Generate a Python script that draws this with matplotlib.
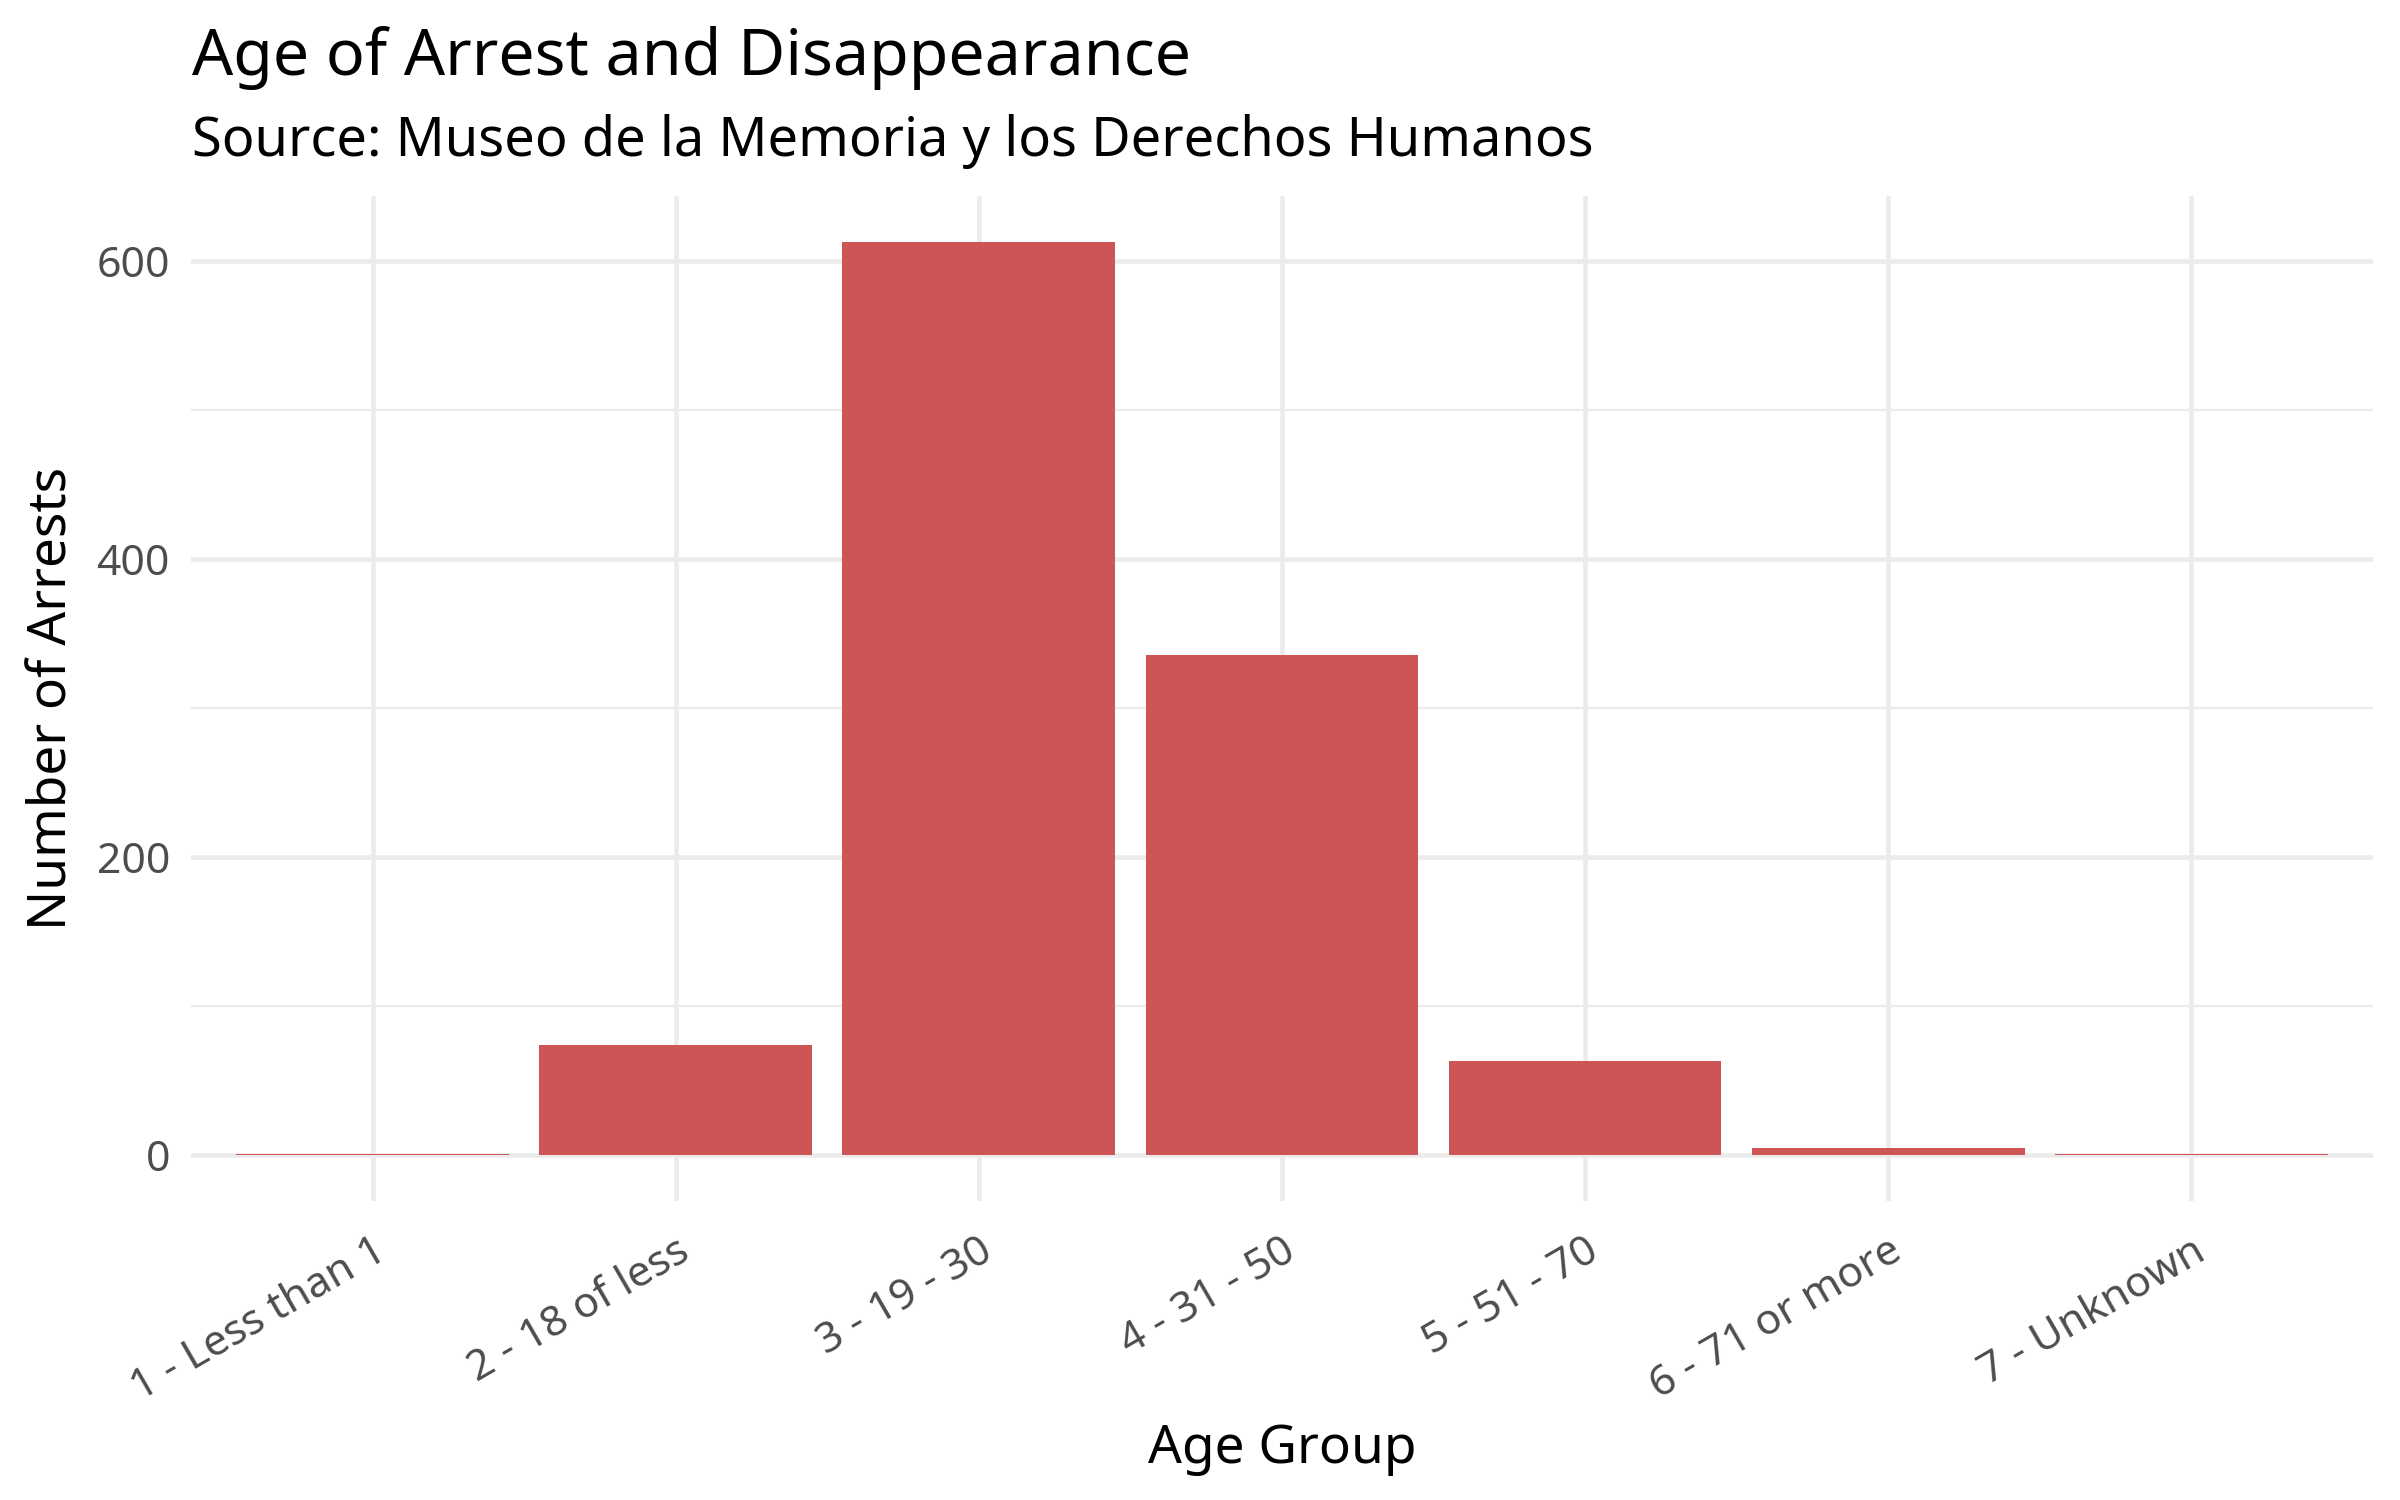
import matplotlib
matplotlib.use("Agg")
import matplotlib.pyplot as plt
from matplotlib.ticker import MultipleLocator

# values
age_groups = ["1 - Less than 1", "2 - 18 of less", "3 - 19 - 30", "4 - 31 - 50",
              "5 - 51 - 70", "6 - 71 or more", "7 - Unknown"]
arrests = [1, 74, 613, 336, 63, 5, 1]

title = "Age of Arrest and Disappearance"
subtitle = "Source: Museo de la Memoria y los Derechos Humanos"

plt.rcParams["font.family"] = ["Noto Sans", "DejaVu Sans"]

fig = plt.figure(figsize=(16, 10), dpi=150)
ax = fig.add_axes([0.0795, 0.1993, 0.9888 - 0.0795, 0.8694 - 0.1993])

x = list(range(1, len(age_groups) + 1))
ax.bar(x, arrests, width=0.9, color="#CD5555", zorder=3)

top = max(arrests)
pad = 0.05 * top
ax.set_ylim(-pad, top + pad)
ax.set_xlim(0.4, len(age_groups) + 0.6)

ax.set_xticks(x)
ax.set_xticklabels(age_groups, rotation=30, ha="right", va="top",
                   rotation_mode="anchor", fontsize=20.5, color="#4D4D4D")
ax.yaxis.set_major_locator(MultipleLocator(200))
ax.yaxis.set_minor_locator(MultipleLocator(100))
ax.tick_params(axis="y", labelsize=20.5, labelcolor="#4D4D4D", pad=10)
ax.tick_params(axis="x", pad=14)
ax.tick_params(axis="both", which="both", length=0)

ax.grid(True, which="major", color="#EBEBEB", linewidth=2.2, zorder=0)
ax.grid(True, which="minor", axis="y", color="#EBEBEB", linewidth=1.1, zorder=0)
for s in ax.spines.values():
    s.set_visible(False)

ax.set_xlabel("Age Group", fontsize=25.5, labelpad=6)
ax.set_ylabel("Number of Arrests", fontsize=25.5, labelpad=8)

fig.text(0.08, 1 - 75 / 1500, title, fontsize=31, va="baseline", ha="left")
fig.text(0.08, 1 - 156 / 1500, subtitle, fontsize=26, va="baseline", ha="left")

fig.savefig("out.png", dpi=150)
